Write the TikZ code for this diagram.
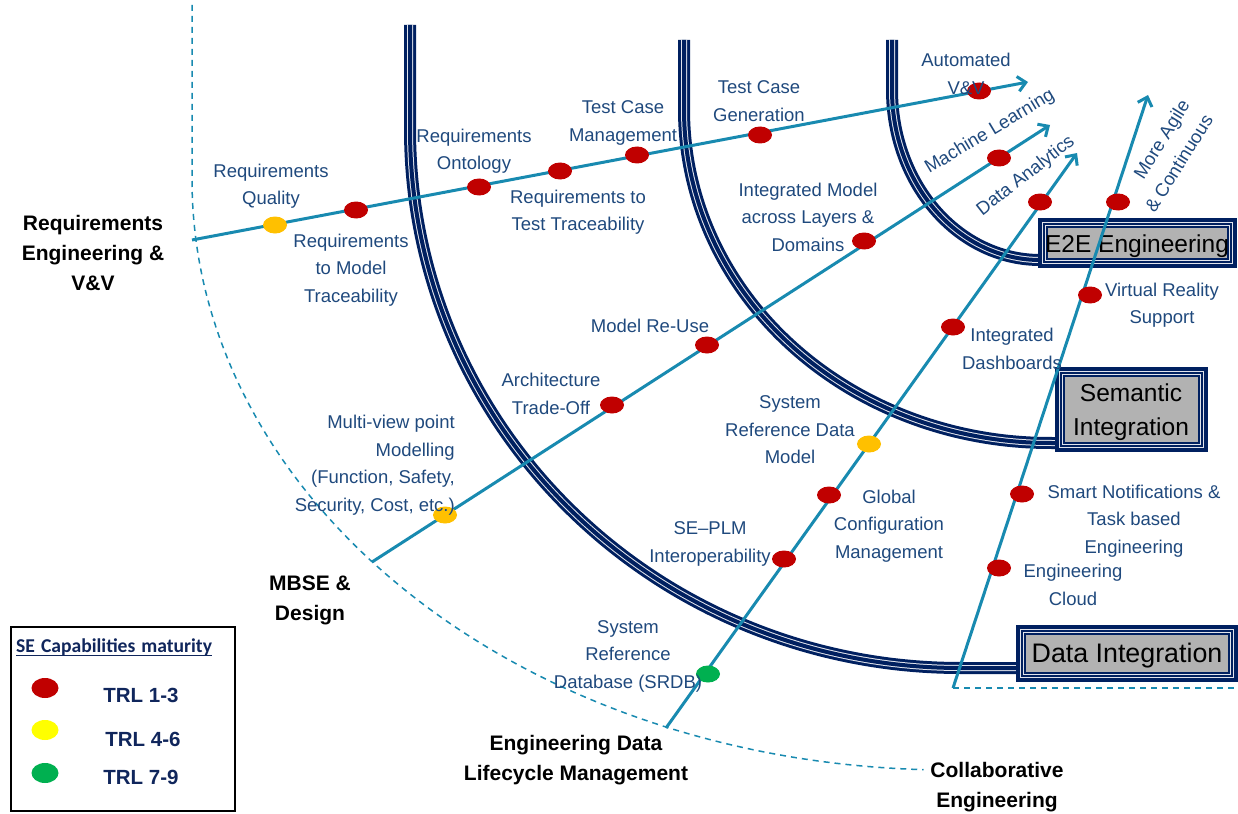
\documentclass[tikz,border=0pt]{standalone}
\usepackage{fontspec}
\setmainfont{Liberation Sans}
\newfontfamily\calib{Carlito}
\usetikzlibrary{arrows.meta,shapes.geometric}
\definecolor{navy}{RGB}{0,32,96}
\definecolor{tline}{RGB}{24,138,176}
\definecolor{lblc}{RGB}{31,73,125}
\definecolor{dred}{RGB}{192,0,0}
\definecolor{amber}{RGB}{255,192,0}
\definecolor{dgreen}{RGB}{0,176,80}
\definecolor{lyellow}{RGB}{255,255,0}
\definecolor{boxgray}{RGB}{178,178,178}
\definecolor{lightgap}{RGB}{225,228,236}
\definecolor{trl}{RGB}{16,38,92}
\newcommand{\tribox}[4]{%
  \fill[navy] (#1,#2) rectangle (#3,#4);
  \fill[lightgap] ({#1+4},{#2+4}) rectangle ({#3-4},{#4-4});
  \fill[navy] ({#1+5},{#2+5}) rectangle ({#3-5},{#4-5});
  \fill[lightgap] ({#1+7},{#2+7}) rectangle ({#3-7},{#4-7});
  \fill[navy] ({#1+8},{#2+8}) rectangle ({#3-8},{#4-8});
  \fill[boxgray] ({#1+10},{#2+10}) rectangle ({#3-10},{#4-10});
}
\begin{document}
\begin{tikzpicture}[x=1pt,y=-1pt,
  triple/.style={draw=navy,line width=12pt,
    postaction={draw=lightgap,line width=6pt},
    postaction={draw=navy,line width=4pt}},
  dashline/.style={draw=tline,line width=1.5pt,dash pattern=on 6pt off 5pt},
  capline/.style={draw=tline,line width=3pt,-{Straight Barb[length=8pt,width=15pt]}},
  dotnode/.style={ellipse,minimum width=24pt,minimum height=17pt,inner sep=0pt},
  lbl/.style={text=lblc,font=\fontsize{18.5}{27.5}\selectfont,align=center,inner sep=0pt},
  catlbl/.style={text=black,font=\fontsize{21}{30}\selectfont\bfseries,align=center,inner sep=0pt},
  boxtxt/.style={text=black,font=\fontsize{24.5}{34}\selectfont,align=center,inner sep=0pt},
  trltxt/.style={text=trl,font=\fontsize{20.5}{24}\selectfont\bfseries,inner sep=0pt}
]
\useasboundingbox (0,0) rectangle (1238,813);

% dashed boundary
\draw[dashline] (192,5) -- (192,180) -- plot[variable=\t,domain=180:92,samples=80,smooth] ({950+758*cos(\t)},{180+590*sin(\t)});
\draw[dashline] (953,688) -- (1238,688);

% triple arcs
\draw[triple] (410,25) -- (410,130) -- plot[variable=\t,domain=180:90,samples=80,smooth] ({960+550*cos(\t)},{130+538*sin(\t)}) -- (1025,668);
\draw[triple] (684,40) -- (684,110) -- plot[variable=\t,domain=180:90,samples=80,smooth] ({1050+366*cos(\t)},{110+333*sin(\t)}) -- (1062,443);
\draw[triple] (892,40) -- (892,90) -- plot[variable=\t,domain=180:90,samples=80,smooth] ({1040+148*cos(\t)},{90+170*sin(\t)}) -- (1062,260);

% boxes
\tribox{1038}{218}{1237}{268}
\tribox{1055}{367}{1208}{452}
\tribox{1016}{625}{1238}{682}
\node[boxtxt] (e2e) at (1137,246) {E2E Engineering};
\node[boxtxt] (sem) at (1131,412) {Semantic\\Integration};
\node[boxtxt,font=\fontsize{26.8}{30}\selectfont] (dint) at (1127,656) {Data Integration};

% capability lines
\coordinate (ra) at (192,240);
\coordinate (rb) at (1028,82);
\coordinate (ma) at (372,562);
\coordinate (mb) at (1050,125);
\coordinate (ea) at (666,728);
\coordinate (eb) at (1077,153);
\coordinate (ca) at (953,688);
\coordinate (cb) at (1148,95);
\draw[capline] (ra) -- (rb);
\draw[capline] (ma) -- (mb);
\draw[capline] (ea) -- (eb);
\draw[capline] (ca) -- (cb);

% dots
\node[dotnode,fill=amber] (r1) at (275,225) {};
\node[dotnode,fill=dred] (r2) at (356,210) {};
\node[dotnode,fill=dred] (r3) at (479,187) {};
\node[dotnode,fill=dred] (r4) at (560,171) {};
\node[dotnode,fill=dred] (r5) at (637,155) {};
\node[dotnode,fill=dred] (r6) at (760,135) {};
\node[dotnode,fill=dred] (r7) at (979,91) {};
\node[dotnode,fill=amber] (m1) at (445,515) {};
\node[dotnode,fill=dred] (m2) at (612,405) {};
\node[dotnode,fill=dred] (m3) at (707,345) {};
\node[dotnode,fill=dred] (m4) at (864,241) {};
\node[dotnode,fill=dred] (m5) at (999,158) {};
\node[dotnode,fill=dgreen] (e1) at (708,674) {};
\node[dotnode,fill=dred] (e2) at (784,559) {};
\node[dotnode,fill=dred] (e3) at (829,495) {};
\node[dotnode,fill=amber] (e4) at (869,444) {};
\node[dotnode,fill=dred] (e5) at (953,327) {};
\node[dotnode,fill=dred] (e6) at (1040,202) {};
\node[dotnode,fill=dred] (c1) at (999,568) {};
\node[dotnode,fill=dred] (c2) at (1022,494) {};
\node[dotnode,fill=dred] (c3) at (1090,295) {};
\node[dotnode,fill=dred] (c4) at (1118,202) {};

% labels
\node[lbl] (lq) at (271,186) {Requirements\\Quality};
\node[lbl] (lmt) at (351,270) {Requirements\\to Model\\Traceability};
\node[lbl] (lont) at (474,151) {Requirements\\Ontology};
\node[lbl] (ltcm) at (623,123) {Test Case\\Management};
\node[lbl] (ltt) at (578,212) {Requirements to\\Test Traceability};
\node[lbl] (ltcg) at (759,101) {Test Case\\Generation};
\node[lbl] (lvv) at (966,74) {Automated\\V\&V};
\node[lbl] (lim) at (808,217) {Integrated Model\\across Layers \&\\Domains};
\node[lbl] (lmr) at (650,326) {Model Re-Use};
\node[lbl] (lat) at (551,394) {Architecture\\Trade-Off};
\node[lbl,align=right,anchor=east] (lmv) at (455,465) {Multi-view point\\Modelling\\(Function, Safety,\\Security, Cost, etc.)};
\node[lbl] (lsr) at (790,430) {System\\Reference Data\\Model};
\node[lbl] (lgc) at (889,526) {Global\\Configuration\\Management};
\node[lbl] (lplm) at (710,544) {SE–PLM\\Interoperability};
\node[lbl] (lsrdb) at (628,656) {System\\Reference\\Database (SRDB)};
\node[lbl,rotate=31] (lml) at (990,132) {Machine Learning};
\node[lbl,rotate=38] (lda) at (1026,176) {Data Analytics};
\node[lbl,rotate=58,align=right] (lag) at (1167,156) {More Agile\\\& Continuous};
\node[lbl] (ldb) at (1012,349) {Integrated\\Dashboards};
\node[lbl] (lvr) at (1162,305) {Virtual Reality\\Support};
\node[lbl] (lsn) at (1134,521) {Smart Notifications \&\\Task based\\Engineering};
\node[lbl] (lec) at (1073,585) {Engineering\\Cloud};

% category labels
\node[catlbl] (kreq) at (93,253) {Requirements\\Engineering \&\\V\&V};
\node[catlbl] (kmbse) at (310,600) {MBSE \&\\Design};
\node[catlbl] (kedl) at (576,760) {Engineering Data\\Lifecycle Management};
\node[catlbl] (kcol) at (997,787) {Collaborative\\Engineering};

% legend
\draw[black,line width=1.2pt] (11,627) rectangle (235,811);
\node[text=trl,font=\calib\bfseries\fontsize{19.6}{22}\selectfont,inner sep=0pt,anchor=base west] (ltitle) at (16,652) {SE\hspace{6pt}Capabilities\hspace{6pt}maturity};
\draw[trl,line width=1pt] ([yshift=-3pt]ltitle.base west) -- ([yshift=-3pt]ltitle.base east);
\node[ellipse,minimum width=27pt,minimum height=20pt,inner sep=0pt,fill=dred] (g1) at (45,688) {};
\node[ellipse,minimum width=27pt,minimum height=20pt,inner sep=0pt,fill=lyellow] (g2) at (45,730) {};
\node[ellipse,minimum width=27pt,minimum height=20pt,inner sep=0pt,fill=dgreen] (g3) at (45,773) {};
\node[trltxt] (t1) at (141,695) {TRL 1-3};
\node[trltxt] (t2) at (143,739) {TRL 4-6};
\node[trltxt] (t3) at (141,777) {TRL 7-9};
\end{tikzpicture}
\end{document}
